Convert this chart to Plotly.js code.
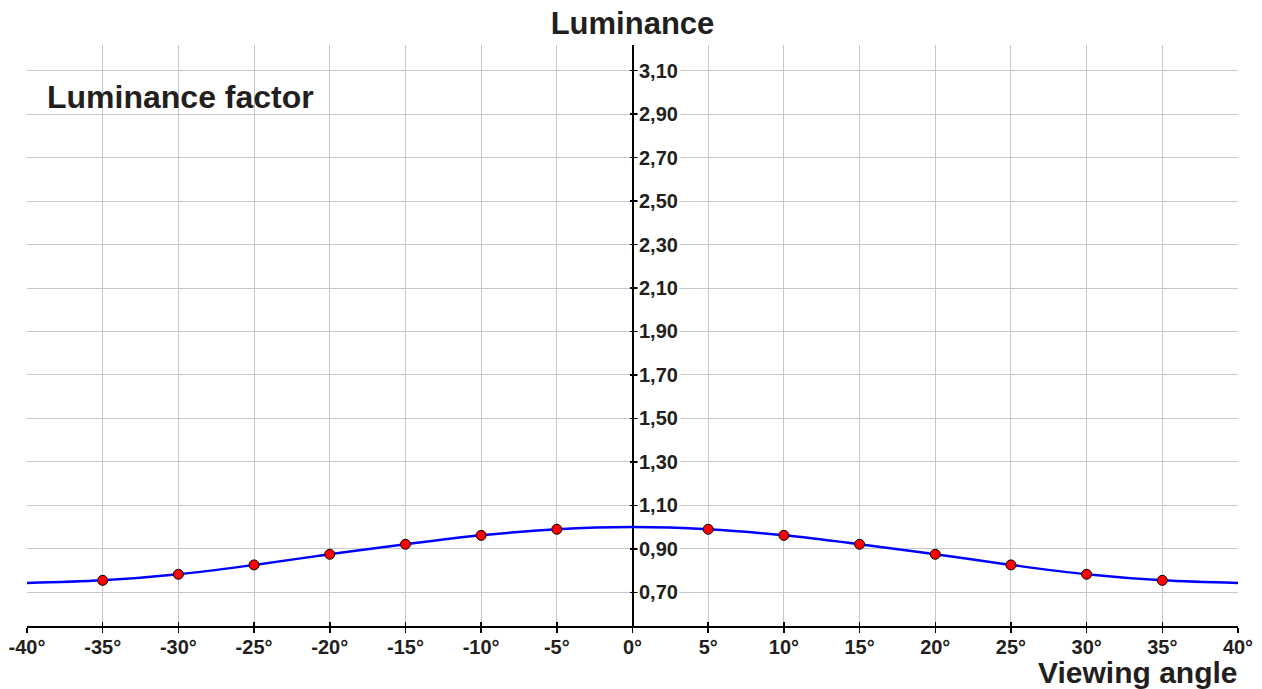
<!DOCTYPE html>
<html>
<head>
<meta charset="utf-8">
<script src="https://cdn.plot.ly/plotly-3.0.1.min.js"></script>
<style>html,body{margin:0;padding:0;background:#fff;}#chart{width:1262px;height:689px;}</style>
</head>
<body>
<div id="chart"></div>
<script>
// Curve (smooth line) samples
var curveAngles = [-40, -35, -30, -25, -20, -15, -10, -5, 0, 5, 10, 15, 20, 25, 30, 35, 40];
var curveValues = [0.743, 0.755, 0.783, 0.826, 0.875, 0.921, 0.962, 0.990, 1.000, 0.990, 0.962, 0.921, 0.875, 0.826, 0.783, 0.755, 0.743];
// Measured points (red markers)
var pointAngles = [-35, -30, -25, -20, -15, -10, -5, 5, 10, 15, 20, 25, 30, 35];
var pointValues = [0.755, 0.783, 0.826, 0.875, 0.921, 0.962, 0.990, 0.990, 0.962, 0.921, 0.875, 0.826, 0.783, 0.755];
// Axis ticks
var xTickVals = [-40, -35, -30, -25, -20, -15, -10, -5, 0, 5, 10, 15, 20, 25, 30, 35, 40];
var xTickLabels = ['-40°', '-35°', '-30°', '-25°', '-20°', '-15°', '-10°', '-5°', '0°', '5°', '10°', '15°', '20°', '25°', '30°', '35°', '40°'];
var yTickVals = [0.70, 0.90, 1.10, 1.30, 1.50, 1.70, 1.90, 2.10, 2.30, 2.50, 2.70, 2.90, 3.10];
var yTickLabels = ['0,70', '0,90', '1,10', '1,30', '1,50', '1,70', '1,90', '2,10', '2,30', '2,50', '2,70', '2,90', '3,10'];
var titleText = 'Luminance';
var subtitleText = 'Luminance factor';
var xTitleText = 'Viewing angle';

var txt = '#231f20';
var fam = 'Arial, "Liberation Sans", sans-serif';

var traces = [
  {
    x: curveAngles, y: curveValues, type: 'scatter', mode: 'lines',
    line: {color: '#0000ff', width: 2.5, shape: 'spline', smoothing: 1},
    hoverinfo: 'skip', showlegend: false
  },
  {
    x: pointAngles, y: pointValues, type: 'scatter', mode: 'markers',
    marker: {color: '#ff0000', size: 10, line: {color: '#000000', width: 1}},
    showlegend: false
  },
  {
    x: pointAngles, y: pointValues, xaxis: 'x2', yaxis: 'y2', type: 'scatter', mode: 'markers',
    marker: {opacity: 0}, hoverinfo: 'skip', showlegend: false
  }
];

var annotations = yTickVals.map(function (v, i) {
  return {
    x: 0, xref: 'x', y: v, yref: 'y', text: yTickLabels[i], showarrow: false,
    xanchor: 'left', yanchor: 'middle', xshift: 4,
    bgcolor: '#ffffff', borderpad: 1,
    font: {family: fam, size: 20, color: txt, weight: 'bold'}
  };
});
annotations.push({
  x: 0, xref: 'paper', y: 1, yref: 'paper', text: subtitleText, showarrow: false,
  xanchor: 'left', yanchor: 'middle', xshift: 18, yshift: -52,
  font: {family: fam, size: 32, color: txt, weight: 'bold'}
});
annotations.push({
  x: 1, xref: 'paper', y: 0, yref: 'paper', text: xTitleText, showarrow: false,
  xanchor: 'right', yanchor: 'bottom', xshift: 1, yshift: -64, borderpad: 0,
  font: {family: fam, size: 30, color: txt, weight: 'bold'}
});

var layout = {
  width: 1262, height: 689,
  margin: {l: 27, r: 24, t: 45, b: 63, pad: 0},
  paper_bgcolor: '#ffffff', plot_bgcolor: '#ffffff',
  title: {
    text: titleText, x: 0.5, xref: 'paper', xanchor: 'center',
    y: 0.966, yref: 'container', yanchor: 'middle',
    font: {family: fam, size: 31, color: txt, weight: 'bold'}
  },
  xaxis: {
    range: [-40, 40], tickmode: 'array', tickvals: xTickVals, ticktext: xTickLabels,
    showgrid: true, gridcolor: '#c8c8c8', gridwidth: 1, zeroline: false,
    showline: true, linecolor: '#000000', linewidth: 2,
    ticks: 'outside', ticklen: 5, tickcolor: '#000000', tickwidth: 1.5,
    ticklabelstandoff: -3,
    tickfont: {family: fam, size: 20, color: txt, weight: 'bold'},
    fixedrange: true, layer: 'below traces'
  },
  yaxis: {
    range: [0.545, 3.218], tickmode: 'array', tickvals: yTickVals,
    showticklabels: false,
    anchor: 'free', position: 0.5, side: 'right',
    showgrid: true, gridcolor: '#c8c8c8', gridwidth: 1, zeroline: false,
    showline: true, linecolor: '#000000', linewidth: 2,
    ticks: 'outside', ticklen: 4, tickcolor: '#000000', tickwidth: 1.5,
    fixedrange: true, layer: 'below traces'
  },
  xaxis2: {
    overlaying: 'x', matches: 'x', anchor: 'y2', side: 'bottom',
    tickmode: 'array', tickvals: xTickVals, showticklabels: false,
    showgrid: false, zeroline: false, showline: false,
    ticks: 'inside', ticklen: 4, tickcolor: '#000000', tickwidth: 1.5
  },
  yaxis2: {
    overlaying: 'y', matches: 'y', anchor: 'free', position: 0.5, side: 'left',
    tickmode: 'array', tickvals: yTickVals, showticklabels: false,
    showgrid: false, zeroline: false, showline: false,
    ticks: 'outside', ticklen: 3, tickcolor: '#000000', tickwidth: 1.5
  },
  annotations: annotations,
  showlegend: false
};

Plotly.newPlot('chart', traces, layout, {displayModeBar: false, staticPlot: true});
</script>
</body>
</html>
